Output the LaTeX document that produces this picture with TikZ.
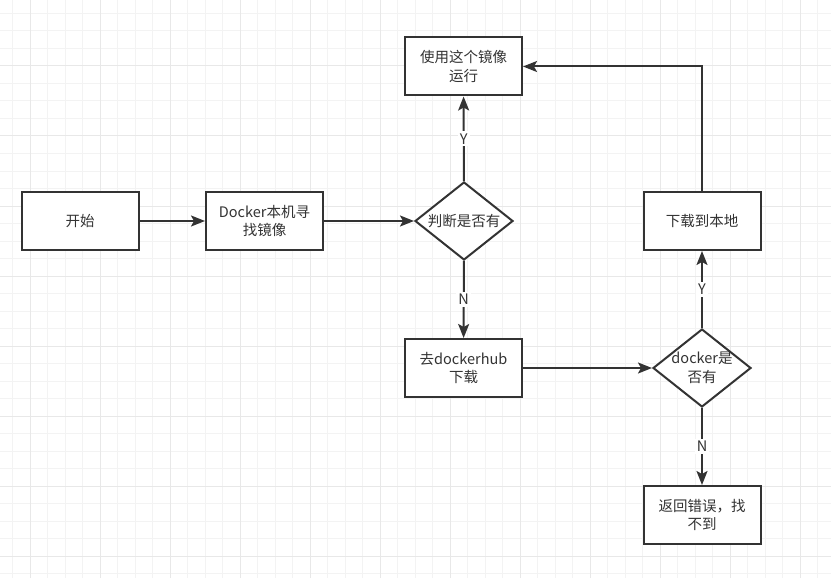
\documentclass[tikz,border=0pt]{standalone}
\usepackage{fontspec}
\setmainfont{Noto Sans CJK SC}
\usetikzlibrary{shapes.geometric,arrows.meta}
\definecolor{ink}{HTML}{333333}
\definecolor{gridminor}{HTML}{F3F3F3}
\definecolor{gridmajor}{HTML}{E8E8E8}
\begin{document}
\begin{tikzpicture}[x=1pt,y=-1pt,
  box/.style={draw=ink, line width=2pt, minimum width=117pt, minimum height=58pt,
    align=center, inner sep=0pt, fill=white, text=ink, font=\fontsize{14.5}{18.5}\selectfont},
  dia/.style={draw=ink, line width=2pt, diamond, minimum width=98pt, minimum height=78pt,
    inner sep=0pt, fill=white},
  diatext/.style={align=center, text=ink, font=\fontsize{14.5}{18.5}\selectfont},
  conn/.style={draw=ink, line width=2pt, -{Stealth[length=14pt,width=11pt,inset=3pt]}},
  lbl/.style={fill=white, text=ink, inner sep=2pt, font=\fontsize{14.5}{17}\selectfont}
]
\useasboundingbox (0,0) rectangle (831,578);
\fill[white] (0,0) rectangle (831,578);
% grid
\foreach \gx in {12.5,30,...,831} \draw[gridminor, line width=1pt] (\gx,0) -- (\gx,578);
\foreach \gy in {13.5,31,...,578} \draw[gridminor, line width=1pt] (0,\gy) -- (831,\gy);
\foreach \gx in {30,100,...,831} \draw[gridmajor, line width=1pt] (\gx,0) -- (\gx,578);
\foreach \gy in {66,136,...,578} \draw[gridmajor, line width=1pt] (0,\gy) -- (831,\gy);

% nodes
\node[box] (start) at (80,221) {开始};
\node[box] (find) at (264.5,221) {Docker本机寻\\找镜像};
\node[dia, label={[diatext]center:判断是否有}] (has) at (464,221) {};
\node[box] (run) at (463.5,66.5) {使用这个镜像\\运行};
\node[box] (hub) at (463.5,368) {去dockerhub\\下载};
\node[dia, label={[diatext]center:docker是\\否有}] (dhas) at (702,368) {};
\node[box] (local) at (702,221) {下载到本地};
\node[box] (err) at (702,515) {返回错误，找\\不到};

% connectors
\draw[conn] (start) -- (find);
\draw[conn] (find) -- (has);
\draw[conn] (has) -- node[lbl]{Y} (run);
\draw[conn] (has) -- node[lbl]{N} (hub);
\draw[conn] (hub) -- (dhas);
\draw[conn] (dhas) -- node[lbl]{Y} (local);
\draw[conn] (dhas) -- node[lbl]{N} (err);
\draw[conn] (local.north) |- (run.east);
\end{tikzpicture}
\end{document}
